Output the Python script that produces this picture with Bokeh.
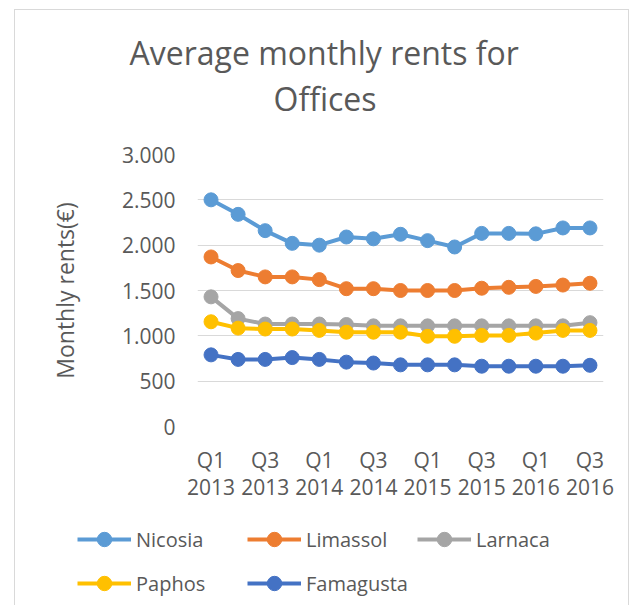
from bokeh.plotting import figure
from bokeh.models import (Range1d, FixedTicker, LinearAxis, Legend,
                          LegendItem, Title, ColumnDataSource)
from bokeh.embed import file_html
from bokeh.resources import INLINE

# ---- data ----
periods = ["Q1 2013", "Q2 2013", "Q3 2013", "Q4 2013",
           "Q1 2014", "Q2 2014", "Q3 2014", "Q4 2014",
           "Q1 2015", "Q2 2015", "Q3 2015", "Q4 2015",
           "Q1 2016", "Q2 2016", "Q3 2016"]
quarter_labels = ["Q1", "", "Q3", "", "Q1", "", "Q3", "", "Q1", "", "Q3", "", "Q1", "", "Q3"]
year_labels = ["2013", "", "2013", "", "2014", "", "2014", "", "2015", "", "2015", "", "2016", "", "2016"]

nicosia = [2500, 2340, 2160, 2020, 2000, 2090, 2070, 2120, 2050, 1980, 2130, 2130, 2125, 2190, 2190]
limassol = [1870, 1720, 1650, 1650, 1620, 1520, 1520, 1500, 1500, 1500, 1525, 1535, 1545, 1560, 1580]
larnaca = [1430, 1190, 1130, 1130, 1130, 1125, 1110, 1110, 1110, 1110, 1110, 1110, 1110, 1110, 1145]
paphos = [1155, 1085, 1075, 1075, 1060, 1040, 1040, 1040, 995, 995, 1005, 1005, 1030, 1060, 1060]
famagusta = [790, 740, 740, 760, 740, 710, 700, 680, 680, 680, 665, 665, 665, 665, 675]

series_names = ["Nicosia", "Limassol", "Larnaca", "Paphos", "Famagusta"]
series_values = [nicosia, limassol, larnaca, paphos, famagusta]
series_colors = ["#5B9BD5", "#ED7D31", "#A5A5A5", "#FFC000", "#4472C4"]

y_ticks = [0, 500, 1000, 1500, 2000, 2500, 3000]
y_tick_labels = ["0", "500", "1.000", "1.500", "2.000", "2.500", "3.000"]

FONT = "Open Sans"
TXT = "#595959"
BORDER = "1px solid #D9D9D9"

# position of each period along the x axis (index in the list)
x_pos = list(range(len(periods)))

p = figure(width=615, height=496,
           x_range=Range1d(-0.5, len(periods) - 0.5),
           y_range=Range1d(y_ticks[0], y_ticks[-1]),
           output_backend="svg", toolbar_location=None,
           min_border_left=182, min_border_right=27,
           min_border_top=144, min_border_bottom=80)
p.styles = {"margin-left": "14px", "margin-top": "9px",
            "border-left": BORDER, "border-top": BORDER, "border-right": BORDER}
p.outline_line_color = None
p.background_fill_color = "white"
p.border_fill_color = "white"

for name, vals, col in zip(series_names, series_values, series_colors):
    src = ColumnDataSource(dict(x=x_pos, y=vals))
    p.line("x", "y", source=src, line_color=col, line_width=4)
    p.scatter("x", "y", source=src, marker="circle", size=14,
              fill_color=col, line_color=col)

# grid
p.xgrid.visible = False
p.ygrid.ticker = FixedTicker(ticks=y_ticks)
p.ygrid.grid_line_color = "#D9D9D9"
p.ygrid.grid_line_width = 1

# y axis
yax = p.yaxis[0]
yax.ticker = FixedTicker(ticks=y_ticks)
yax.major_label_overrides = dict(zip(y_ticks, y_tick_labels))
yax.axis_line_color = None
yax.major_tick_line_color = None
yax.minor_tick_line_color = None
yax.major_tick_out = 0
yax.major_tick_in = 0
yax.major_label_standoff = 22
yax.major_label_text_font = FONT
yax.major_label_text_font_size = "21px"
yax.major_label_text_color = TXT
yax.axis_label = "Monthly rents(€)"
yax.axis_label_text_font = FONT
yax.axis_label_text_font_size = "23px"
yax.axis_label_text_font_style = "normal"
yax.axis_label_text_color = TXT
yax.axis_label_standoff = 38

# x axes: quarter row and year row
shown = [i for i, q in enumerate(quarter_labels) if q]

def style_xaxis(ax, labels, standoff):
    ax.ticker = FixedTicker(ticks=[x_pos[i] for i in shown])
    ax.major_label_overrides = {x_pos[i]: labels[i] for i in shown}
    ax.axis_line_color = None
    ax.major_tick_line_color = None
    ax.minor_tick_line_color = None
    ax.major_tick_out = 0
    ax.major_tick_in = 0
    ax.major_label_standoff = standoff
    ax.major_label_text_font = FONT
    ax.major_label_text_font_size = "21px"
    ax.major_label_text_color = TXT

style_xaxis(p.xaxis[0], quarter_labels, 19)
ax2 = LinearAxis()
style_xaxis(ax2, year_labels, 2)
p.add_layout(ax2, "below")

# spacer between plot area and title: an axis whose single tick is white and unlabeled
spacer = LinearAxis(ticker=FixedTicker(ticks=[x_pos[0]]), major_tick_out=34, major_tick_in=0,
                    axis_line_color=None, major_tick_line_color="white",
                    minor_tick_line_color=None, major_label_standoff=0,
                    major_label_overrides={x_pos[0]: ""},
                    major_label_text_font_size="1px")
p.add_layout(spacer, "above")

# titles (first added is closest to the plot)
t2 = Title(text="Offices", align="left", offset=76, standoff=2,
           text_font=FONT, text_font_size="32px", text_font_style="normal", text_color=TXT)
t1 = Title(text="Average monthly rents for", align="left", offset=-68, standoff=0,
           text_font=FONT, text_font_size="32px", text_font_style="normal", text_color=TXT)
p.add_layout(t2, "above")
p.add_layout(t1, "above")

# ---- legend strip (its renderers hold the series but lie outside its view) ----
pl = figure(width=615, height=100, x_range=Range1d(0, 1), y_range=Range1d(0, 1),
            output_backend="svg", toolbar_location=None,
            x_axis_location=None, y_axis_location=None,
            min_border_left=0, min_border_right=0, min_border_top=0, min_border_bottom=0)
pl.styles = {"margin-left": "14px", "border-left": BORDER, "border-right": BORDER}
pl.outline_line_color = None
pl.xgrid.visible = False
pl.ygrid.visible = False
pl.background_fill_color = "white"
pl.border_fill_color = "white"

leg_items = []
for name, vals, col in zip(series_names, series_values, series_colors):
    src = ColumnDataSource(dict(x=x_pos, y=vals))
    a = pl.line("x", "y", source=src, line_color=col, line_width=4)
    b = pl.scatter("x", "y", source=src, marker="circle", size=14, fill_color=col, line_color=col)
    leg_items.append(LegendItem(label=name, renderers=[a, b]))

def make_legend(items, loc):
    return Legend(items=items, orientation="horizontal", location=loc,
                  label_text_font=FONT, label_text_font_size="20px", label_text_color=TXT,
                  glyph_width=54, glyph_height=36, label_standoff=5, label_width=96,
                  spacing=15, padding=0, margin=0,
                  border_line_alpha=0, background_fill_alpha=0)

pl.add_layout(make_legend(leg_items[:3], (62, 47.6)))
pl.add_layout(make_legend(leg_items[3:], (62, 3.6)))

open("out.html", "w").write(file_html([p, pl], INLINE))
